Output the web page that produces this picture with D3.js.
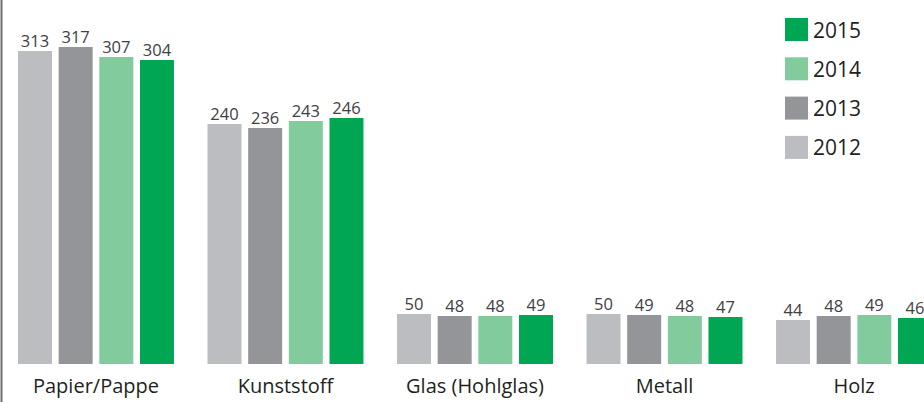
<!doctype html>
<html>
<head>
  <meta charset="utf8"/>
  <style>
    body { margin: 0; background: #fff; }
    text { font-family: "Open Sans", "Noto Sans", sans-serif; }
  </style>
</head>
<body>
  <svg width="924" height="402"></svg>
  <script src="https://d3js.org/d3.v7.min.js"></script>
  <script>
    // values
    var categories = ['Papier/Pappe', 'Kunststoff', 'Glas (Hohlglas)', 'Metall', 'Holz'];
    var years = ['2012', '2013', '2014', '2015'];
    var values2012 = [313, 240, 50, 50, 44];
    var values2013 = [317, 236, 48, 49, 48];
    var values2014 = [307, 243, 48, 48, 49];
    var values2015 = [304, 246, 49, 47, 46];
    var colors = ['#bcbdc0', '#939598', '#82cb9c', '#00a651'];

    var series = [values2012, values2013, values2014, values2015];

    var svg = d3.select('svg'),
        baseline = 364;

    var x0 = d3.scaleBand()
               .domain(categories)
               .range([18, 932])
               .paddingInner(0.177)
               .paddingOuter(0)
               .align(0);

    var x1 = d3.scaleBand()
               .domain(years)
               .range([0, x0.bandwidth()])
               .paddingInner(0.164)
               .paddingOuter(0);

    var y = d3.scaleLinear()
              .domain([0, 364])
              .range([baseline, 0]);

    var z = d3.scaleOrdinal().domain(years).range(colors);

    // left axis line
    svg.append('line')
       .attr('x1', 1.5).attr('x2', 1.5)
       .attr('y1', 0).attr('y2', 402)
       .attr('stroke', '#6d6e71')
       .attr('stroke-width', 2);

    var group = svg.selectAll('.group')
      .data(categories)
      .enter().append('g')
        .attr('class', 'group')
        .attr('transform', function(d) { return 'translate(' + x0(d) + ',0)'; });

    var bars = group.selectAll('.bar')
      .data(function(d, i) {
        return years.map(function(yr, j) { return {year: yr, value: series[j][i]}; });
      })
      .enter();

    bars.append('rect')
        .attr('x', function(d) { return x1(d.year); })
        .attr('y', function(d) { return y(d.value); })
        .attr('width', x1.bandwidth())
        .attr('height', function(d) { return baseline - y(d.value); })
        .attr('fill', function(d) { return z(d.year); });

    bars.append('text')
        .attr('x', function(d) { return x1(d.year) + x1.bandwidth() / 2; })
        .attr('y', function(d) { return y(d.value) - 4; })
        .attr('text-anchor', 'middle')
        .attr('fill', '#414042')
        .style('font-size', '16.5px')
        .text(function(d) { return d.value; });

    group.append('text')
        .attr('x', x0.bandwidth() / 2)
        .attr('y', 393)
        .attr('text-anchor', 'middle')
        .attr('fill', '#231f20')
        .style('font-size', '20px')
        .text(function(d) { return d; });

    // legend, newest year first
    var legend = svg.selectAll('.legend')
      .data(years.slice().reverse())
      .enter().append('g')
        .attr('class', 'legend')
        .attr('transform', function(d, i) { return 'translate(785,' + (18 + i * 39.3) + ')'; });

    legend.append('rect')
        .attr('width', 23).attr('height', 23)
        .attr('fill', function(d) { return z(d); });

    legend.append('text')
        .attr('x', 28)
        .attr('y', 19.5)
        .attr('fill', '#231f20')
        .style('font-size', '21px')
        .text(function(d) { return d; });
  </script>
</body>
</html>
